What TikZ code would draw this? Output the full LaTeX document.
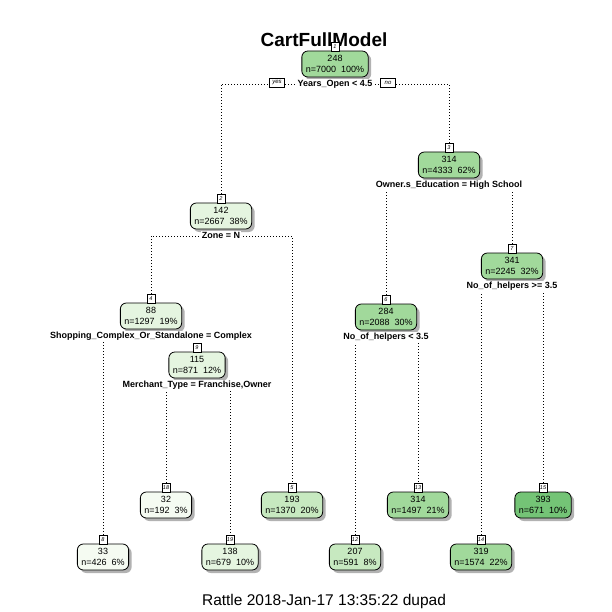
\documentclass[tikz,border=0pt]{standalone}
\usepackage{fontspec}
\setmainfont{Liberation Sans}
\usepackage{tikz, xcolor}
\usetikzlibrary{positioning, shadows}
\definecolor{g1}{HTML}{F5FBF2}
\definecolor{g2}{HTML}{E5F5E0}
\definecolor{g3}{HTML}{C7E9C0}
\definecolor{g4}{HTML}{A1D99B}
\definecolor{g5}{HTML}{74C476}
\pgfdeclarelayer{bg}
\pgfsetlayers{bg,main}

\begin{document}
\begin{tikzpicture}[x=1pt, y=-1pt,
    box/.style={draw, rounded corners=6pt, line width=0.8pt, align=center,
        inner xsep=4pt, inner ysep=2pt, minimum height=26pt,
        font=\fontsize{9}{11}\selectfont,
        drop shadow={shadow xshift=3pt, shadow yshift=-3pt, fill=black!30, opacity=1}},
    nn/.style={draw, fill=white, line width=0.6pt, inner sep=1pt,
        minimum width=8pt, minimum height=9pt, font=\itshape\fontsize{5.5}{6}\selectfont},
    split/.style={fill=white, inner sep=1pt, text height=7pt, text depth=2pt,
        font=\bfseries\fontsize{9}{10}\selectfont},
    yn/.style={draw, fill=white, line width=0.6pt, inner sep=1pt,
        minimum width=15pt, minimum height=9pt, font=\itshape\fontsize{6}{7}\selectfont},
    edge/.style={line width=0.7pt, dash pattern=on 0.7pt off 2.3pt}]
    \useasboundingbox (0,0) rectangle (612,612);

    \node [font=\bfseries\fontsize{19}{22}\selectfont] (title) at (324,40) {CartFullModel};

    % inner nodes
    \node [box, fill=g4] (n1) at (335,64) {248\\n=7000~~100\%};
    \node [box, fill=g2] (n2) at (221,216) {142\\n=2667~~38\%};
    \node [box, fill=g4] (n3) at (449,165) {314\\n=4333~~62\%};
    \node [box, fill=g2] (n4) at (151,316) {88\\n=1297~~19\%};
    \node [box, fill=g4] (n6) at (386,317) {284\\n=2088~~30\%};
    \node [box, fill=g4] (n7) at (512,266) {341\\n=2245~~32\%};
    \node [box, fill=g2] (n9) at (197,365) {115\\n=871~~12\%};

    % leaves
    \node [box, fill=g1] (n18) at (166,505) {32\\n=192~~3\%};
    \node [box, fill=g3] (n5) at (292,505) {193\\n=1370~~20\%};
    \node [box, fill=g4] (n13) at (418,505) {314\\n=1497~~21\%};
    \node [box, fill=g5] (n15) at (543,505) {393\\n=671~~10\%};
    \node [box, fill=g1] (n8) at (103,557) {33\\n=426~~6\%};
    \node [box, fill=g2] (n19) at (230,557) {138\\n=679~~10\%};
    \node [box, fill=g3] (n12) at (355,557) {207\\n=591~~8\%};
    \node [box, fill=g4] (n14) at (481,557) {319\\n=1574~~22\%};

    % node numbers
    \node [nn, above=-1pt of n1] (l1) {1};
    \node [nn, above=-1pt of n2] (l2) {2};
    \node [nn, above=-1pt of n3] (l3) {3};
    \node [nn, above=-1pt of n4] (l4) {4};
    \node [nn, above=-1pt of n5] (l5) {5};
    \node [nn, above=-1pt of n6] (l6) {6};
    \node [nn, above=-1pt of n7] (l7) {7};
    \node [nn, above=-1pt of n8] (l8) {8};
    \node [nn, above=-1pt of n9] (l9) {9};
    \node [nn, above=-1pt of n12] (l12) {12};
    \node [nn, above=-1pt of n13] (l13) {13};
    \node [nn, above=-1pt of n14] (l14) {14};
    \node [nn, above=-1pt of n15] (l15) {15};
    \node [nn, above=-1pt of n18] (l18) {18};
    \node [nn, above=-1pt of n19] (l19) {19};

    % split labels
    \node [split, below=1pt of n1] (s1) {Years\_Open < 4.5};
    \node [split, below=1pt of n2] (s2) {Zone = N};
    \node [split, below=1pt of n3] (s3) {Owner.s\_Education = High School};
    \node [split, below=1pt of n4] (s4) {Shopping\_Complex\_Or\_Standalone = Complex};
    \node [split, below=1pt of n6] (s6) {No\_of\_helpers < 3.5};
    \node [split, below=1pt of n7] (s7) {No\_of\_helpers >= 3.5};
    \node [split, below=1pt of n9] (s9) {Merchant\_Type = Franchise,Owner};

    \begin{pgfonlayer}{bg}
        \fill [white] (0,0) rectangle (612,612);
        \draw [edge] (l2) |- (s1.center) -| (l3);
        \draw [edge] (l4) |- (s2.center) -| (l5);
        \draw [edge] (l6) |- (s3.center) -| (l7);
        \draw [edge] (l8) |- (s4.center) -| (l9);
        \draw [edge] (l18) |- (s9.center) -| (l19);
        \draw [edge] (l12) |- (s6.center) -| (l13);
        \draw [edge] (l14) |- (s7.center) -| (l15);
    \end{pgfonlayer}

    \node [yn] (yes) at (277,83) {yes};
    \node [yn] (no) at (388,83) {no};

    \node [font=\fontsize{15.5}{18}\selectfont] (foot) at (324,601) {Rattle 2018-Jan-17 13:35:22 dupad};
\end{tikzpicture}
\end{document}
